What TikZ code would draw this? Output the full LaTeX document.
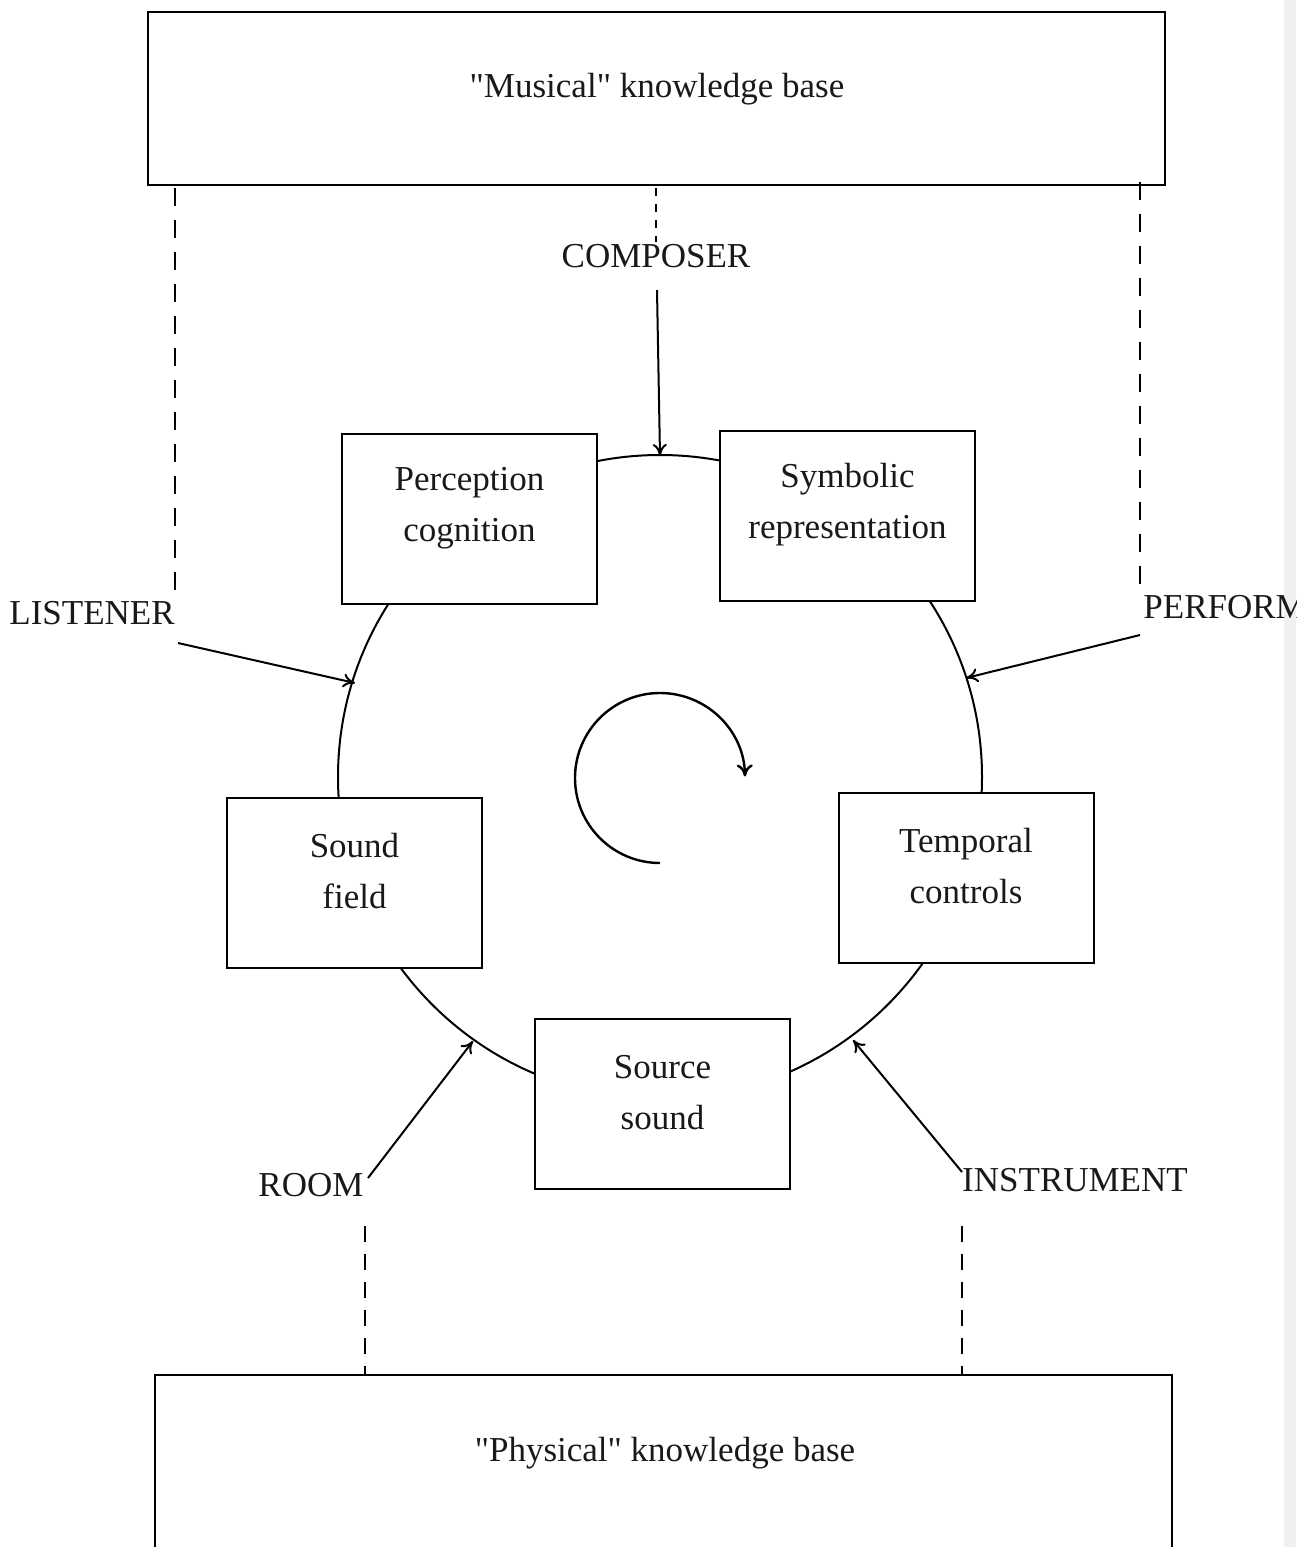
\documentclass[tikz,border=0pt]{standalone}
\usepackage{fontspec}
\setmainfont{Liberation Serif}[Ligatures=TeXOff]
\usetikzlibrary{arrows.meta}
\begin{document}
\begin{tikzpicture}[x=0.5pt,y=-0.5pt,
  every node/.style={font=\fontsize{17.5}{25.5}\selectfont, text=black!90},
  stagebox/.style={draw, line width=1pt, fill=white, minimum width=127.5pt, minimum height=85pt, inner sep=0pt},
  stagetext/.style={align=center, inner sep=0pt},
  kbbox/.style={draw, line width=1pt, inner sep=0pt},
  label/.style={inner sep=1pt},
  arr/.style={line width=1pt, -{To[length=6pt,width=7pt]}},
  dashline/.style={line width=1pt, dash pattern=on 9pt off 7pt},
  dotline/.style={line width=1.2pt, dash pattern=on 4pt off 4pt}]
\useasboundingbox (0,0) rectangle (1296,1547);
\clip (0,0) rectangle (1296,1547);
\fill[white] (0,0) rectangle (1296,1547);
\fill[black!6] (1284,0) rectangle (1296,1547);

% knowledge bases
\node[kbbox, minimum width=508.5pt, minimum height=86.5pt] (musical) at (656.5,98.5) {};
\node (musicalt) at (657,89) {"Musical" knowledge base};
\node[kbbox, minimum width=508.5pt, minimum height=92.5pt] (physical) at (663.5,1467.5) {};
\node (physicalt) at (665,1453) {"Physical" knowledge base};

% circle
\coordinate (c) at (660,777);
\draw[line width=1pt] (c) circle[radius=322];

% inner rotation arrow
\draw[line width=1.2pt, -{To[length=6pt,width=8pt]}] (660,863) arc[start angle=90, end angle=359, radius=85];

% stage boxes
\node[stagebox] (perc) at (469.5,519) {};
\node[stagebox] (symb) at (847.5,516) {};
\node[stagebox] (sound) at (354.5,882.5) {};
\node[stagebox] (temp) at (966,877.5) {};
\node[stagebox] (src) at (662.5,1104) {};
\node[stagetext] (perct) at ([yshift=5.5pt]perc.center) {Perception\\cognition};
\node[stagetext] (symbt) at ([yshift=5.5pt]symb.center) {Symbolic\\representation};
\node[stagetext] (soundt) at ([yshift=5.5pt]sound.center) {Sound\\field};
\node[stagetext] (tempt) at ([yshift=5.5pt]temp.center) {Temporal\\controls};
\node[stagetext] (srct) at ([yshift=5.5pt]src.center) {Source\\sound};

% labels
\node[label] (composer) at (656,256) {COMPOSER};
\node[label] (listener) at (92,613) {LISTENER};
\node[label, anchor=west] (performer) at (1141,607) {PERFORMER};
\node[label] (room) at (311,1185) {ROOM};
\node[label] (instrument) at (1075,1180) {INSTRUMENT};

% points on circle
\coordinate (pComp) at (660,456);
\coordinate (pList) at (355,683);
\coordinate (pPerf) at (966,678);
\coordinate (pRoom) at (473,1041);
\coordinate (pInst) at (853,1040);

% arrow starts
\coordinate (sComp) at (657,290);
\coordinate (sList) at (178,643);
\coordinate (sPerf) at (1140,635);
\coordinate (sRoom) at (368,1178);
\coordinate (sInst) at (962,1172);

\draw[arr] (sComp) -- (pComp);
\draw[arr] (sList) -- (pList);
\draw[arr] (sPerf) -- (pPerf);
\draw[arr] (sRoom) -- (pRoom);
\draw[arr] (sInst) -- (pInst);

% dashed links to knowledge bases
\draw[dotline] (musical.south -| composer) ++(0,2) -- (composer.north);
\coordinate (dL1) at (175,188);
\coordinate (dL2) at (175,592);
\coordinate (dR1) at (1140,182);
\coordinate (dR2) at (1140,585);
\draw[dashline] (dL1) -- (dL2);
\draw[dashline] (dR1) -- (dR2);
\coordinate (bL1) at (365,1226);
\coordinate (bR1) at (962,1226);
\draw[dashline, dash pattern=on 8pt off 6pt] (bL1) -- (bL1 |- physical.north);
\draw[dashline, dash pattern=on 8pt off 6pt] (bR1) -- (bR1 |- physical.north);
\end{tikzpicture}
\end{document}
